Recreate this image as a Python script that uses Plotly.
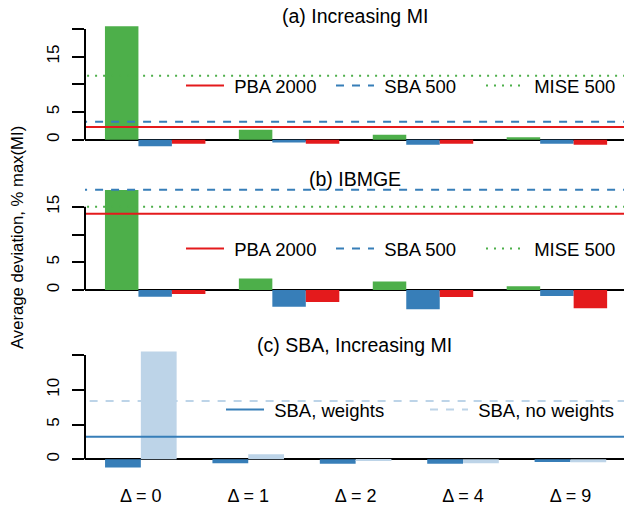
import plotly.graph_objects as go

# ---------------- data ----------------
groups_ab = [0, 1, 2, 3]
groups_c = [0, 1, 2, 3, 4]
x_labels_c = ["Δ = 0", "Δ = 1", "Δ = 2", "Δ = 4", "Δ = 9"]

# Panel (a) Increasing MI
a_mise = [20.5, 1.8, 0.9, 0.42]
a_sba = [-1.2, -0.5, -0.9, -0.72]
a_pba = [-0.72, -0.72, -0.72, -0.9]
a_lines = {"PBA 2000": 2.29, "SBA 500": 3.25, "MISE 500": 11.55}

# Panel (b) IBMGE
b_mise = [18.0, 2.09, 1.55, 0.66]
b_sba = [-1.2, -3.03, -3.45, -1.07]
b_pba = [-0.71, -2.14, -1.25, -3.27]
b_lines = {"PBA 2000": 13.75, "SBA 500": 18.07, "MISE 500": 15.0}

# Panel (c) SBA, Increasing MI
c_w = [-1.2, -0.57, -0.66, -0.66, -0.38]
c_nw = [15.5, 0.71, -0.2, -0.57, -0.43]
c_lines = {"SBA, weights": 3.24, "SBA, no weights": 8.4}

yt_a = [0, 5, 10, 15, 20]; yl_a = ["0", "5", "", "15", ""]
yt_b = [0, 5, 10, 15]; yl_b = ["0", "5", "", "15"]
yt_c = [0, 5, 10, 15]; yl_c = ["0", "5", "10", ""]

# ---------------- style ----------------
GREEN, BLUE, RED, LIGHT = "#4DAF4A", "#377EB8", "#E41A1C", "#BDD4E8"
FONT = "Liberation Sans, Arial, sans-serif"
W, H, ML = 624, 512, 85
PW = W - ML
NB = "\u00a0"

def py(px):
    return 1 - px / H

def pxx(px):
    return (px - ML) / PW

xr_ab = [-0.524, 3.501]
xr_c = [-0.52, 4.499]
yr_a = [-2.04, 21.43]
yr_b = [-4.32, 18.92]
yr_c = [-1.83, 16.16]

fig = go.Figure()

line_style = {
    "PBA 2000": dict(color=RED, width=2),
    "SBA 500": dict(color=BLUE, width=2, dash="8px,8px"),
    "MISE 500": dict(color=GREEN, width=2, dash="2px,6px"),
    "SBA, weights": dict(color=BLUE, width=2),
    "SBA, no weights": dict(color=LIGHT, width=2, dash="8px,8px"),
}

def add_bars(vals, color, xa, ya, width, offset):
    fig.add_trace(go.Bar(x=groups_ab if len(vals) == 4 else groups_c, y=vals,
                         marker=dict(color=color, line=dict(width=0)),
                         width=width, offset=offset, xaxis=xa, yaxis=ya,
                         showlegend=False, hoverinfo="skip"))

def add_lines(lines, xr, xa, ya, legend):
    for name, v in lines.items():
        fig.add_trace(go.Scatter(x=[xr[0] - 1, xr[1] + 1], y=[v, v], mode="lines",
                                 line=line_style[name], name=NB + name, xaxis=xa, yaxis=ya,
                                 legend=legend, showlegend=True, hoverinfo="skip"))

# panel a
add_lines(a_lines, xr_ab, "x", "y", "legend")
add_bars(a_mise, GREEN, "x", "y", 0.25, -0.375)
add_bars(a_sba, BLUE, "x", "y", 0.25, -0.125)
add_bars(a_pba, RED, "x", "y", 0.25, 0.125)
# panel b
add_lines(b_lines, xr_ab, "x2", "y2", "legend2")
add_bars(b_mise, GREEN, "x2", "y2", 0.25, -0.375)
add_bars(b_sba, BLUE, "x2", "y2", 0.25, -0.125)
add_bars(b_pba, RED, "x2", "y2", 0.25, 0.125)
# panel c
add_lines(c_lines, xr_c, "x3", "y3", "legend3")
add_bars(c_w, BLUE, "x3", "y3", 1 / 3, -1 / 3)
add_bars(c_nw, LIGHT, "x3", "y3", 1 / 3, 0)

def yax(rng, dom, tv, tt):
    return dict(range=rng, domain=dom, tickvals=tv, ticktext=tt, tickangle=-90,
                ticks="outside", ticklen=12, tickwidth=2, tickcolor="black",
                showline=False, showgrid=False, zeroline=True, zerolinecolor="black",
                zerolinewidth=2, tickfont=dict(size=17, color="black"), fixedrange=True,
                automargin=False, ticklabelstandoff=6)

def xax(rng, anchor, labels):
    d = dict(range=rng, anchor=anchor, showgrid=False, zeroline=False, showline=False,
             ticks="", fixedrange=True, automargin=False)
    if labels:
        d.update(tickvals=groups_c, ticktext=x_labels_c, showticklabels=True,
                 tickfont=dict(size=18, color="black"), ticklabelstandoff=11)
    else:
        d.update(showticklabels=False)
    return d

fig.update_layout(
    width=W, height=H, margin=dict(l=ML, r=0, t=0, b=0, autoexpand=False),
    plot_bgcolor="white", paper_bgcolor="white",
    font=dict(family=FONT, color="black"),
    barmode="overlay",
    xaxis=xax(xr_ab, "y", False),
    xaxis2=xax(xr_ab, "y2", False),
    xaxis3=xax(xr_c, "y3", True),
    yaxis=yax(yr_a, [py(151), py(21)], yt_a, yl_a),
    yaxis2=yax(yr_b, [py(314), py(185)], yt_b, yl_b),
    yaxis3=yax(yr_c, [py(472), py(347)], yt_c, yl_c),
)

leg = dict(orientation="h", xanchor="left", yanchor="middle", bgcolor="rgba(0,0,0,0)",
           font=dict(size=18.5, color="black"), itemwidth=38, entrywidthmode="pixels")
fig.update_layout(
    legend=dict(leg, x=pxx(181), y=py(86), entrywidth=97),
    legend2=dict(leg, x=pxx(181), y=py(249), entrywidth=97),
    legend3=dict(leg, x=pxx(221), y=py(410), entrywidth=151),
)

# y-axis lines from lowest to highest tick
for ya, tv in (("y", yt_a), ("y2", yt_b), ("y3", yt_c)):
    fig.add_shape(type="line", xref=ya.replace("y", "x") + " domain", yref=ya,
                  x0=0, x1=0, y0=min(tv), y1=max(tv), line=dict(color="black", width=2))

titles = [("(a) Increasing MI", 16), ("(b) IBMGE", 179), ("(c) SBA, Increasing MI", 345)]
for t, ypx in titles:
    fig.add_annotation(text=t, xref="paper", yref="paper", x=0.5, y=py(ypx),
                       showarrow=False, font=dict(size=19.5, color="black"),
                       xanchor="center", yanchor="middle")

fig.add_annotation(text="Average deviation, % max(MI)", xref="paper", yref="paper",
                   x=pxx(17), y=py(238), textangle=-90, showarrow=False,
                   font=dict(size=16.7, color="black"), xanchor="center", yanchor="middle")

fig.write_html("out.html", config={"displayModeBar": False},
               post_script="document.body.style.margin='0px';")
